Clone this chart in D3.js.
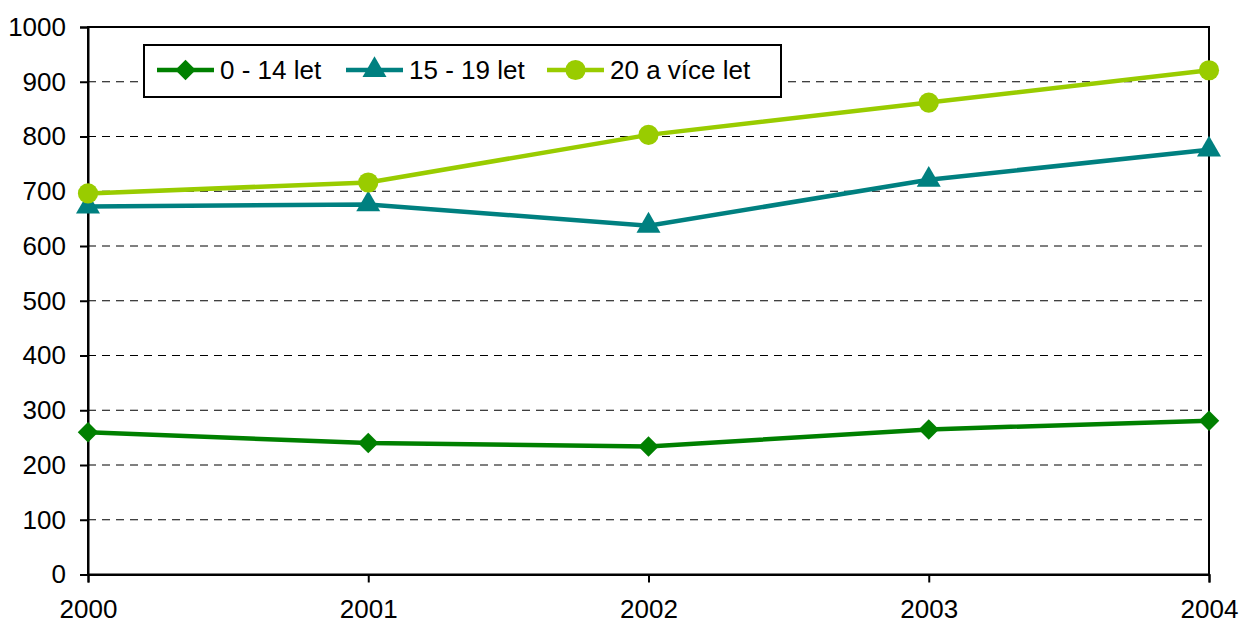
<!DOCTYPE html>
<html>
<head>
<meta charset="utf-8">
<script src="https://d3js.org/d3.v7.min.js"></script>
<style>
  body { margin: 0; background: #fff; }
  svg text { font-family: "Liberation Sans", Arial, sans-serif; font-size: 26px; fill: #000; }
</style>
</head>
<body>
<svg id="chart" width="1241" height="624"></svg>
<script>
var years = ["2000", "2001", "2002", "2003", "2004"]
var yTicks = [0, 100, 200, 300, 400, 500, 600, 700, 800, 900, 1000]
var seriesNames = ["0 - 14 let", "15 - 19 let", "20 a více let"]
var kids = [260, 240, 234, 265, 281]
var teens = [672, 676, 637, 721, 776]
var adults = [696, 716, 803, 862, 921]

var colors = ["#008000", "#008080", "#99cc00"]
// diamond drawn as a square turned 45 degrees
var shapes = [d3.symbolSquare, d3.symbolTriangle, d3.symbolCircle]
var sizes = [210, 250, 320]
var turns = [45, 0, 0]

var series = [kids, teens, adults].map(function (vals, i) {
  return { name: seriesNames[i], values: vals, color: colors[i], shape: shapes[i], size: sizes[i], turn: turns[i] }
})

var plotL = 88, plotR = 1209, plotT = 27, plotB = 574.5
var svg = d3.select('#chart')

var x = d3.scalePoint().domain(years).range([plotL, plotR])
var y = d3.scaleLinear().domain([0, 1000]).range([plotB, plotT])

// dashed gridlines
svg.append('g').selectAll('line')
  .data(yTicks.filter(function (t) { return t > 0 && t < 1000 }))
  .enter().append('line')
  .attr('x1', plotL).attr('x2', plotR)
  .attr('y1', function (d) { return y(d) }).attr('y2', function (d) { return y(d) })
  .attr('stroke', '#000').attr('stroke-width', 1).attr('stroke-dasharray', '8,6')

// frame
svg.append('rect')
  .attr('x', plotL).attr('y', plotT)
  .attr('width', plotR - plotL).attr('height', plotB - plotT)
  .attr('fill', 'none').attr('stroke', '#000').attr('stroke-width', 2)

// y axis
var yAxis = svg.append('g')
  .attr('transform', 'translate(' + plotL + ',0)')
  .call(d3.axisLeft(y).tickValues(yTicks).tickSize(8).tickPadding(14).tickFormat(d3.format('d')))
yAxis.select('.domain').attr('stroke-width', 2)
yAxis.selectAll('.tick line').attr('stroke-width', 2)
yAxis.selectAll('text').style('font-size', '26px').attr('fill', '#000')

// x axis
var xAxis = svg.append('g')
  .attr('transform', 'translate(0,' + plotB + ')')
  .call(d3.axisBottom(x).tickSize(8).tickPadding(17))
xAxis.select('.domain').attr('stroke-width', 2)
xAxis.selectAll('.tick line').attr('stroke-width', 2)
xAxis.selectAll('text').style('font-size', '26px').attr('fill', '#000')

var line = d3.line()
  .x(function (d, i) { return x(years[i]) })
  .y(function (d) { return y(d) })

series.forEach(function (s) {
  svg.append('path')
    .datum(s.values)
    .attr('d', line)
    .attr('fill', 'none')
    .attr('stroke', s.color)
    .attr('stroke-width', 4.5)
  svg.append('g').selectAll('path')
    .data(s.values)
    .enter().append('path')
    .attr('d', d3.symbol().type(s.shape).size(s.size))
    .attr('transform', function (d, i) {
      return 'translate(' + x(years[i]) + ',' + y(d) + ') rotate(' + s.turn + ')'
    })
    .attr('fill', s.color)
})

// legend
var legend = svg.append('g')
legend.append('rect')
  .attr('x', 144).attr('y', 45).attr('width', 637).attr('height', 52)
  .attr('fill', '#fff').attr('stroke', '#000').attr('stroke-width', 2)
var legendX = [157, 346, 547]
series.forEach(function (s, i) {
  var g = legend.append('g').attr('transform', 'translate(' + legendX[i] + ',70)')
  g.append('line').attr('x1', 0).attr('x2', 57).attr('y1', 0).attr('y2', 0)
    .attr('stroke', s.color).attr('stroke-width', 4.5)
  g.append('path').attr('d', d3.symbol().type(s.shape).size(s.size))
    .attr('transform', 'translate(28.5,0) rotate(' + s.turn + ')').attr('fill', s.color)
  g.append('text').attr('x', 63).attr('y', 9).text(s.name)
})
</script>
</body>
</html>
